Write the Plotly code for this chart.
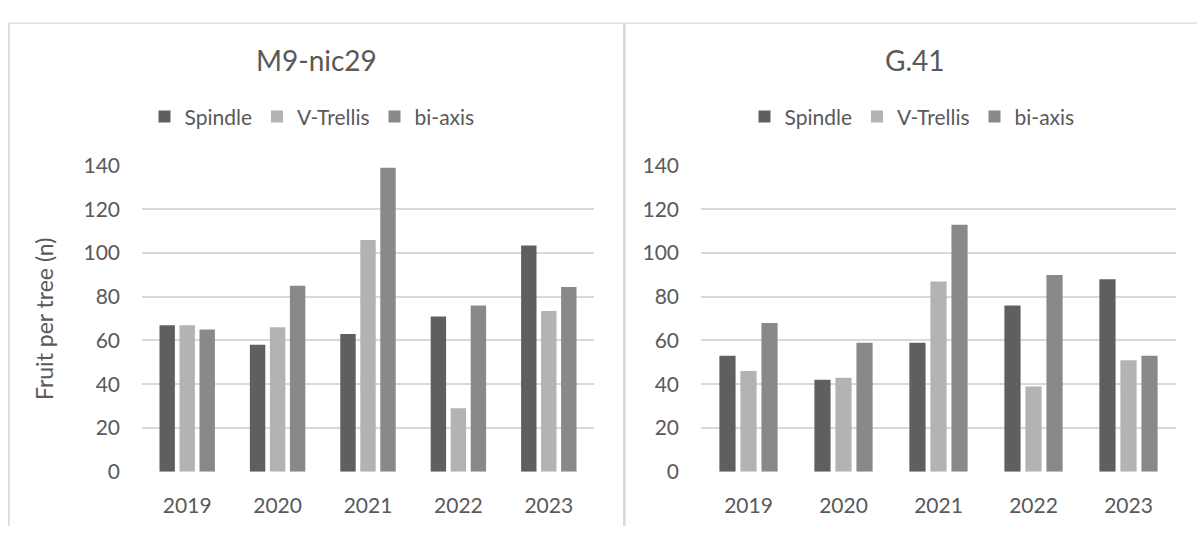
import plotly.graph_objects as go

years = ["2019", "2020", "2021", "2022", "2023"]
series_names = ["Spindle", "V-Trellis", "bi-axis"]
series_colors = ["#5f5f5f", "#b3b3b3", "#898989"]

m9_spindle = [67, 58, 63, 71, 103.5]
m9_vtrellis = [67, 66, 106, 29, 73.5]
m9_biaxis = [65, 85, 139, 76, 84.5]

g41_spindle = [53, 42, 59, 76, 88]
g41_vtrellis = [46, 43, 87, 39, 51]
g41_biaxis = [68, 59, 113, 90, 53]

panel_titles = ["M9-nic29", "G.41"]
y_title = "Fruit per tree (n)"
y_ticks = [0, 20, 40, 60, 80, 100, 120, 140]

W, H = 1198, 537
FONT = "Lato, 'Open Sans', sans-serif"
TXT = "#595959"
GRID = "#d9d9d9"


def px(x):
    return x / W


def py(y):
    return 1 - y / H


fig = go.Figure()

left_sets = [m9_spindle, m9_vtrellis, m9_biaxis]
right_sets = [g41_spindle, g41_vtrellis, g41_biaxis]

for name, col, vals in zip(series_names, series_colors, left_sets):
    fig.add_trace(go.Bar(x=years, y=vals, name=name, marker_color=col,
                         marker_line_width=0, xaxis="x", yaxis="y",
                         legend="legend"))
for name, col, vals in zip(series_names, series_colors, right_sets):
    fig.add_trace(go.Bar(x=years, y=vals, name=name, marker_color=col,
                         marker_line_width=0, xaxis="x2", yaxis="y2",
                         legend="legend2"))

axis_common_y = dict(range=[0, 140], tickvals=y_ticks, showgrid=True,
                     gridcolor=GRID, gridwidth=1.5, zeroline=False,
                     showline=False, ticks="", ticklabelstandoff=21,
                     tickfont=dict(family=FONT, size=21, color=TXT),
                     fixedrange=True)
axis_common_x = dict(type="category", showgrid=False, zeroline=False,
                     showline=False, ticks="", ticklabelstandoff=19,
                     tickfont=dict(family=FONT, size=21, color=TXT))

y_dom = [py(480), py(159)]

legend_common = dict(orientation="h", yanchor="middle", xanchor="center",
                     bgcolor="rgba(0,0,0,0)",
                     font=dict(family=FONT, size=21, color=TXT),
                     itemwidth=30, tracegroupgap=0)

fig.update_layout(
    width=W, height=H,
    margin=dict(l=0, r=0, t=0, b=0),
    paper_bgcolor="white", plot_bgcolor="white",
    barmode="group", bargap=0.336, bargroupgap=0.23,
    xaxis=dict(domain=[px(142), px(594)], anchor="y", **axis_common_x),
    yaxis=dict(domain=y_dom, anchor="x", **axis_common_y),
    xaxis2=dict(domain=[px(701), px(1176)], anchor="y2", **axis_common_x),
    yaxis2=dict(domain=y_dom, anchor="x2", **axis_common_y),
    legend=dict(x=px(312), y=py(108), **legend_common),
    legend2=dict(x=px(912), y=py(108), **legend_common),
    showlegend=True,
)

# panel titles
for title, cx in zip(panel_titles, [316, 915]):
    fig.add_annotation(text=title, x=px(cx), y=py(48), xref="paper",
                       yref="paper", showarrow=False, xanchor="center",
                       yanchor="middle",
                       font=dict(family=FONT, size=28, color=TXT))

# y axis title
fig.add_annotation(text=y_title, x=px(44), y=py(320), xref="paper",
                   yref="paper", showarrow=False, textangle=-90,
                   xanchor="center", yanchor="middle",
                   font=dict(family=FONT, size=23, color=TXT))

# chart frames
fig.add_shape(type="line", xref="paper", yref="paper",
              x0=px(8), x1=px(1197), y0=py(9.5), y1=py(9.5),
              line=dict(color=GRID, width=1.2))
fig.add_shape(type="line", xref="paper", yref="paper",
              x0=px(8.8), x1=px(8.8), y0=py(9.5), y1=0,
              line=dict(color=GRID, width=1.8))
fig.add_shape(type="line", xref="paper", yref="paper",
              x0=px(624.3), x1=px(624.3), y0=py(9.5), y1=0,
              line=dict(color=GRID, width=2.6))

fig.write_html("out.html")
